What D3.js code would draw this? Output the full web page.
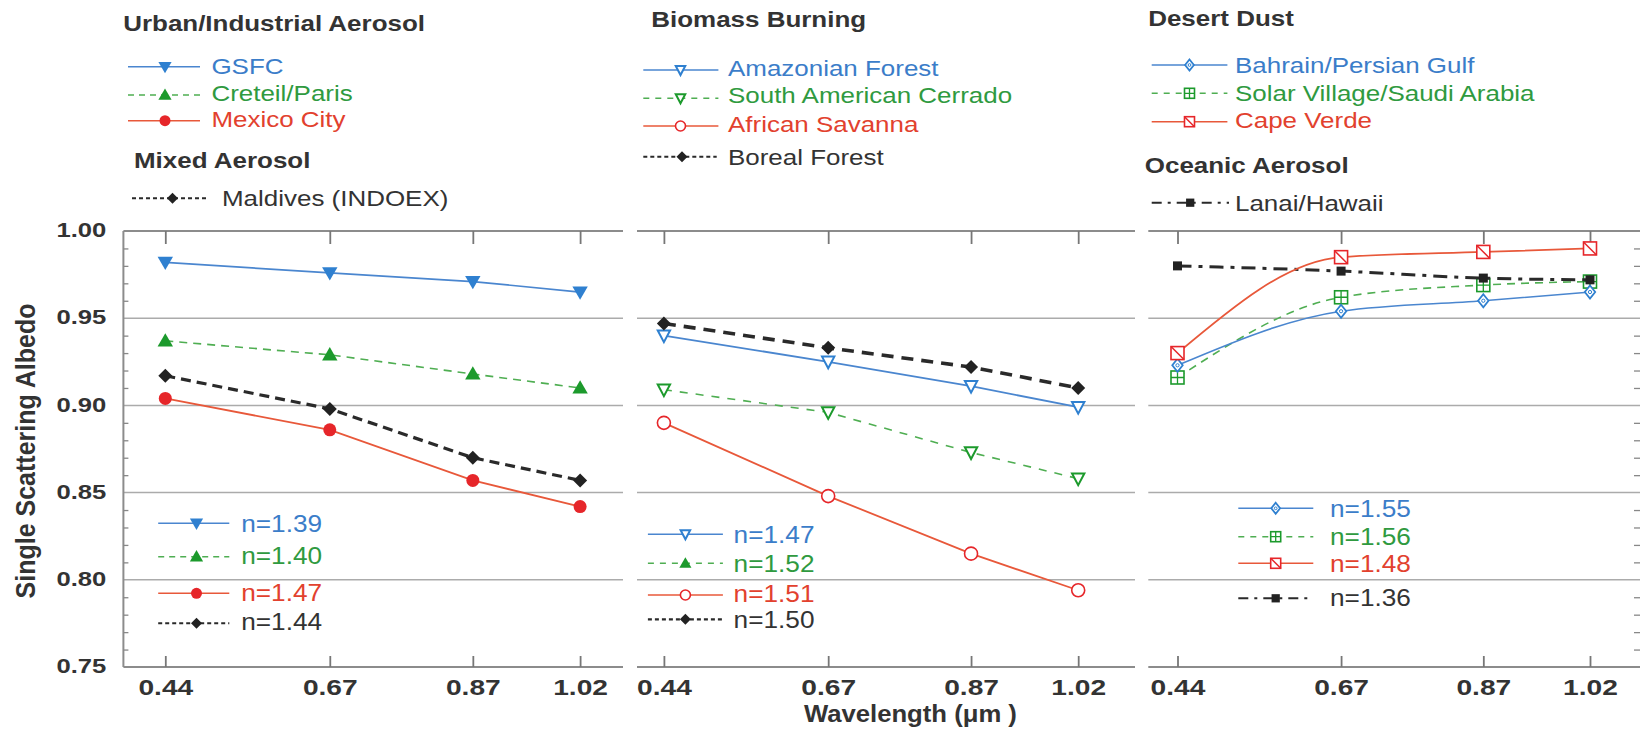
<!DOCTYPE html>
<html><head><meta charset="utf-8">
<script src="https://cdn.jsdelivr.net/npm/d3@7"></script>
<style>body{margin:0;background:#fff}svg{display:block}text{font-family:"Liberation Sans",Arial,Helvetica,sans-serif}</style>
</head><body><svg id="c" width="1640" height="730"></svg>
<script>
// ---------- data ----------
const wavelengths = [0.44, 0.67, 0.87, 1.02];
const xTickLabels = ["0.44", "0.67", "0.87", "1.02"];
const yTicks = [0.75, 0.80, 0.85, 0.90, 0.95, 1.00];
const yTickLabels = ["0.75", "0.80", "0.85", "0.90", "0.95", "1.00"];
const gridValues = [0.80, 0.85, 0.90, 0.95];
const minorTicks = [0.76,0.77,0.78,0.79,0.81,0.82,0.83,0.84,0.86,0.87,0.88,0.89,0.91,0.92,0.93,0.94,0.96,0.97,0.98,0.99];

// Urban/Industrial + Mixed
const gsfc     = [0.982, 0.976, 0.971, 0.965];
const creteil  = [0.937, 0.929, 0.918, 0.910];
const mexico   = [0.904, 0.886, 0.857, 0.842];
const maldives = [0.917, 0.898, 0.870, 0.857];
// Biomass burning
const amazon   = [0.940, 0.925, 0.911, 0.899];
const cerrado  = [0.909, 0.896, 0.873, 0.858];
const savanna  = [0.890, 0.848, 0.815, 0.794];
const boreal   = [0.947, 0.933, 0.922, 0.910];
// Desert dust + Oceanic
const bahrain  = [0.923, 0.954, 0.960, 0.965];
const solar    = [0.916, 0.962, 0.969, 0.971];
const capeVerde= [0.930, 0.985, 0.988, 0.990];
const lanai    = [0.980, 0.977, 0.973, 0.972];

const panelTitles = [["Urban/Industrial Aerosol", "Mixed Aerosol"], ["Biomass Burning"], ["Desert Dust", "Oceanic Aerosol"]];
const names1 = ["GSFC", "Creteil/Paris", "Mexico City", "Maldives (INDOEX)"];
const names2 = ["Amazonian Forest", "South American Cerrado", "African Savanna", "Boreal Forest"];
const names3 = ["Bahrain/Persian Gulf", "Solar Village/Saudi Arabia", "Cape Verde", "Lanai/Hawaii"];
const nLabels1 = ["n=1.39", "n=1.40", "n=1.47", "n=1.44"];
const nLabels2 = ["n=1.47", "n=1.52", "n=1.51", "n=1.50"];
const nLabels3 = ["n=1.55", "n=1.56", "n=1.48", "n=1.36"];
const yTitle = "Single Scattering Albedo";
const xTitle = "Wavelength (\u03bcm )";

// ---------- styles ----------
const BLUE = {line:"#4a86cf", mark:"#2f80d0", text:"#3b7dc9"};
const GREEN = {line:"#4fae52", mark:"#1c9a2c", text:"#2f9a40"};
const RED = {line:"#e8583a", mark:"#e6262a", text:"#e2412e"};
const BLACK = {line:"#2a2a2a", mark:"#222", text:"#333"};

const svg = d3.select("#c");
const FONT = '"Liberation Sans",Arial,Helvetica,sans-serif';
function txt(g, x, y, s, o) {
  return g.append("text")
    .attr("transform", `translate(${x},${y}) scale(${o.sx||1},1)` + (o.rot ? ` rotate(${o.rot})` : ""))
    .attr("text-anchor", o.anchor || "start")
    .attr("font-size", o.size).attr("font-weight", o.weight || "normal")
    .attr("fill", o.fill || "#333").text(s);
}
function marker(g, type, x, y, s, c) {
  const h = s / 2;
  switch (type) {
    case "triDownFilled":
      g.append("path").attr("d", `M${x-h*1.1},${y-h*0.8}L${x+h*1.1},${y-h*0.8}L${x},${y+h*1.1}Z`).attr("fill", c); break;
    case "triUpFilled":
      g.append("path").attr("d", `M${x-h*1.1},${y+h*0.8}L${x+h*1.1},${y+h*0.8}L${x},${y-h*1.1}Z`).attr("fill", c); break;
    case "triDownOpen":
      g.append("path").attr("d", `M${x-h*0.95},${y-h*0.8}L${x+h*0.95},${y-h*0.8}L${x},${y+h}Z`).attr("fill", "#fff").attr("stroke", c).attr("stroke-width", 2); break;
    case "circleFilled":
      g.append("circle").attr("cx", x).attr("cy", y).attr("r", h).attr("fill", c); break;
    case "circleOpen":
      g.append("circle").attr("cx", x).attr("cy", y).attr("r", h).attr("fill", "#fff").attr("stroke", c).attr("stroke-width", 1.6); break;
    case "diamondFilled":
      g.append("path").attr("d", `M${x},${y-h}L${x+h},${y}L${x},${y+h}L${x-h},${y}Z`).attr("fill", c); break;
    case "diamondOpen":
      g.append("path").attr("d", `M${x},${y-h}L${x+h*0.8},${y}L${x},${y+h}L${x-h*0.8},${y}Z`).attr("fill", "#fff").attr("stroke", c).attr("stroke-width", 1.8);
      g.append("circle").attr("cx", x).attr("cy", y).attr("r", h*0.25).attr("fill", "none").attr("stroke", c).attr("stroke-width", 1); break;
    case "squareFilled":
      g.append("rect").attr("x", x-h*0.75).attr("y", y-h*0.75).attr("width", h*1.5).attr("height", h*1.5).attr("fill", c); break;
    case "squareCross":
      g.append("rect").attr("x", x-h).attr("y", y-h).attr("width", s).attr("height", s).attr("fill", "#fff").attr("stroke", c).attr("stroke-width", 1.6);
      g.append("path").attr("d", `M${x-h},${y}L${x+h},${y}M${x},${y-h}L${x},${y+h}`).attr("stroke", c).attr("stroke-width", 1.3); break;
    case "squareDiag":
      g.append("rect").attr("x", x-h).attr("y", y-h).attr("width", s).attr("height", s).attr("fill", "#fff").attr("stroke", c).attr("stroke-width", 1.6);
      g.append("path").attr("d", `M${x-h},${y-h}L${x+h},${y+h}`).attr("stroke", c).attr("stroke-width", 1.5); break;
  }
}

const y = d3.scaleLinear().domain([0.75, 1.0]).range([667, 231]);

const panels = [
  {x0:123.4, x1:623, range:[165.3, 580.1], curve:d3.curveLinear,
   series:[
     {v:gsfc, col:BLUE, w:1.7, dash:null, m:"triDownFilled", ms:14},
     {v:creteil, col:GREEN, w:1.6, dash:"8,6", m:"triUpFilled", ms:14},
     {v:maldives, col:BLACK, w:3.2, dash:"10,6", m:"diamondFilled", ms:14},
     {v:mexico, col:RED, w:1.8, dash:null, m:"circleFilled", ms:13}]},
  {x0:637, x1:1135, range:[663.9, 1078.2], curve:d3.curveLinear,
   series:[
     {v:cerrado, col:GREEN, w:1.6, dash:"8,8", m:"triDownOpen", ms:13},
     {v:savanna, col:RED, w:1.8, dash:null, m:"circleOpen", ms:13},
     {v:amazon, col:BLUE, w:1.8, dash:null, m:"triDownOpen", ms:13},
     {v:boreal, col:BLACK, w:3.6, dash:"12,8", m:"diamondFilled", ms:14}]},
  {x0:1148.3, x1:1640, range:[1177.5, 1590], curve:d3.curveMonotoneX,
   series:[
     {v:solar, col:GREEN, w:1.6, dash:"8,6", m:"squareCross", ms:13},
     {v:bahrain, col:BLUE, w:1.6, dash:null, m:"diamondOpen", ms:13},
     {v:lanai, col:BLACK, w:3, dash:"14,7,4,7", m:"squareFilled", ms:12},
     {v:capeVerde, col:RED, w:1.8, dash:null, m:"squareDiag", ms:13}]}
];

panels.forEach((p, pi) => {
  const x = d3.scaleLinear().domain([wavelengths[0], wavelengths[3]]).range(p.range);
  const g = svg.append("g");
  gridValues.forEach(v => g.append("line").attr("x1", p.x0).attr("x2", p.x1).attr("y1", y(v)).attr("y2", y(v))
    .attr("stroke", "#ababab").attr("stroke-width", 1.5));
  [1.0, 0.75].forEach(v => g.append("line").attr("x1", p.x0).attr("x2", p.x1).attr("y1", y(v)).attr("y2", y(v))
    .attr("stroke", "#8c8c8c").attr("stroke-width", 2));
  const ax = d3.axisBottom(x).tickValues(wavelengths).tickFormat((d, i) => xTickLabels[i]).tickSize(-11).tickPadding(12.5);
  const ag = g.append("g").attr("transform", `translate(0,${y(0.75)})`).call(ax);
  ag.select(".domain").remove();
  ag.selectAll(".tick line").attr("stroke", "#777").attr("stroke-width", 1.8);
  ag.selectAll(".tick text").attr("font-size", 22).attr("font-weight", "bold").attr("fill", "#333")
    .attr("font-family", FONT).attr("transform", "scale(1.28,1)");
  const at = d3.axisTop(x).tickValues(wavelengths).tickFormat("").tickSize(-13);
  const tg = g.append("g").attr("transform", `translate(0,${y(1.0)})`).call(at);
  tg.select(".domain").remove();
  tg.selectAll(".tick line").attr("stroke", "#777").attr("stroke-width", 1.8);

  if (pi === 0) {
    g.append("line").attr("x1", p.x0).attr("x2", p.x0).attr("y1", y(1.0)).attr("y2", y(0.75)).attr("stroke", "#8c8c8c").attr("stroke-width", 2);
    const ay = d3.axisLeft(y).tickValues(yTicks).tickFormat((d, i) => yTickLabels[i]).tickSize(0).tickPadding(14);
    const yg = g.append("g").attr("transform", `translate(${p.x0},0)`).call(ay);
    yg.select(".domain").remove();
    yg.selectAll(".tick text").attr("font-size", 21).attr("font-weight", "bold").attr("fill", "#333")
      .attr("font-family", FONT).attr("dy", "0.27em").attr("transform", "scale(1.22,1)");
    const am = d3.axisLeft(y).tickValues(minorTicks).tickFormat("").tickSize(-5);
    const mg = g.append("g").attr("transform", `translate(${p.x0},0)`).call(am);
    mg.select(".domain").remove();
    mg.selectAll(".tick line").attr("stroke", "#888").attr("stroke-width", 1.3);
  }
  if (pi === 2) {
    const am = d3.axisRight(y).tickValues(minorTicks).tickFormat("").tickSize(-6);
    const mg = g.append("g").attr("transform", `translate(1640,0)`).call(am);
    mg.select(".domain").remove();
    mg.selectAll(".tick line").attr("stroke", "#888").attr("stroke-width", 1.3);
  }

  const line = d3.line().x((d, i) => x(wavelengths[i])).y(d => y(d)).curve(p.curve);
  p.series.forEach(s => {
    g.append("path").datum(s.v).attr("d", line).attr("fill", "none").attr("stroke", s.col.line)
      .attr("stroke-width", s.w).attr("stroke-dasharray", s.dash);
    s.v.forEach((v, i) => marker(g, s.m, x(wavelengths[i]), y(v), s.ms, s.col.mark));
  });
});

// ---------- legends ----------
function legendRow(g, x1, x2, xm, ly, tx, tb, label, col, w, dash, m, ms, tsize, tsx) {
  g.append("line").attr("x1", x1).attr("x2", x2).attr("y1", ly).attr("y2", ly)
    .attr("stroke", col.line).attr("stroke-width", w).attr("stroke-dasharray", dash);
  marker(g, m, xm, ly, ms, col.mark);
  txt(g, tx, tb, label, {size: tsize, fill: col.text, sx: tsx});
}
const L = svg.append("g");
const TS = 22, TSX = 1.18;
txt(L, 123.2, 30.7, panelTitles[0][0], {size: 22, weight: "bold", fill: "#333", sx: 1.18});
legendRow(L, 128, 200, 165, 66.7, 211.4, 74, names1[0], BLUE, 1.5, null, "triDownFilled", 12, TS, TSX);
legendRow(L, 128, 200, 165, 95, 211.4, 100.7, names1[1], GREEN, 1.5, "6,5", "triUpFilled", 12, TS, TSX);
legendRow(L, 128, 200, 165, 120.7, 211.4, 127.3, names1[2], RED, 1.5, null, "circleFilled", 11, TS, TSX);
txt(L, 134, 168.3, panelTitles[0][1], {size: 22, weight: "bold", fill: "#333", sx: 1.18});
legendRow(L, 132, 207, 172.5, 198.3, 222, 205.7, names1[3], BLACK, 2, "4,3", "diamondFilled", 11, TS, TSX);
txt(L, 651.3, 26.7, panelTitles[1][0], {size: 22, weight: "bold", fill: "#333", sx: 1.18});
legendRow(L, 643.3, 718.4, 680.5, 70, 728, 76, names2[0], BLUE, 1.5, null, "triDownOpen", 10, TS, TSX);
legendRow(L, 643.3, 718.4, 680.5, 98.3, 728, 103.3, names2[1], GREEN, 1.5, "6,6", "triDownOpen", 10, TS, TSX);
legendRow(L, 643.3, 718.4, 680.5, 126, 728, 131.7, names2[2], RED, 1.5, null, "circleOpen", 10, TS, TSX);
legendRow(L, 643.3, 716.7, 682, 156.7, 728, 165, names2[3], BLACK, 2, "4,3", "diamondFilled", 11, TS, TSX);
txt(L, 1148.2, 26, panelTitles[2][0], {size: 22, weight: "bold", fill: "#333", sx: 1.18});
legendRow(L, 1151.7, 1227.4, 1189.5, 65, 1235, 72.7, names3[0], BLUE, 1.5, null, "diamondOpen", 11, TS, TSX);
legendRow(L, 1151.7, 1227.4, 1189.5, 93.3, 1235, 100.7, names3[1], GREEN, 1.5, "6,6", "squareCross", 10, TS, TSX);
legendRow(L, 1151.7, 1227.4, 1189.5, 121.7, 1235, 128.3, names3[2], RED, 1.5, null, "squareDiag", 10, TS, TSX);
txt(L, 1144.8, 173.3, panelTitles[2][1], {size: 22, weight: "bold", fill: "#333", sx: 1.18});
legendRow(L, 1151.7, 1229, 1190.2, 202.7, 1235, 210.7, names3[3], BLACK, 2, "10,6,3,6", "squareFilled", 11, TS, TSX);

const NS = 23, NSX = 1.14;
legendRow(L, 158.2, 229.3, 196.5, 523.3, 241.2, 531.7, nLabels1[0], BLUE, 1.5, null, "triDownFilled", 12, NS, NSX);
legendRow(L, 158.2, 229.3, 196.5, 556.7, 241.2, 564, nLabels1[1], GREEN, 1.5, "6,5", "triUpFilled", 12, NS, NSX);
legendRow(L, 158.2, 229.3, 196.5, 593.3, 241.2, 600.7, nLabels1[2], RED, 1.5, null, "circleFilled", 11, NS, NSX);
legendRow(L, 158.2, 229.3, 196.5, 623.3, 241.2, 630, nLabels1[3], BLACK, 2, "4,3", "diamondFilled", 11, NS, NSX);

legendRow(L, 647.9, 722.9, 685.4, 534.3, 733.6, 543.3, nLabels2[0], BLUE, 1.5, null, "triDownOpen", 10, NS, NSX);
legendRow(L, 647.9, 722.9, 685.4, 563.3, 733.6, 571.7, nLabels2[1], GREEN, 1.5, "6,6", "triUpFilled", 11, NS, NSX);
legendRow(L, 647.9, 722.9, 685.4, 595, 733.6, 601.7, nLabels2[2], RED, 1.5, null, "circleOpen", 10, NS, NSX);
legendRow(L, 647.9, 722.9, 685.4, 619.3, 733.6, 627.7, nLabels2[3], BLACK, 2.2, "4,3", "diamondFilled", 11, NS, NSX);

legendRow(L, 1238.3, 1313.3, 1275.7, 508.3, 1330, 516.7, nLabels3[0], BLUE, 1.5, null, "diamondOpen", 11, NS, NSX);
legendRow(L, 1238.3, 1313.3, 1275.7, 536.7, 1330, 545, nLabels3[1], GREEN, 1.5, "6,6", "squareCross", 10, NS, NSX);
legendRow(L, 1238.3, 1313.3, 1275.7, 563.3, 1330, 571.7, nLabels3[2], RED, 1.5, null, "squareDiag", 10, NS, NSX);
legendRow(L, 1238.3, 1313.3, 1275.7, 598.3, 1330, 606, nLabels3[3], BLACK, 2, "10,6,3,6", "squareFilled", 11, NS, NSX);

txt(svg, 910.4, 721.7, xTitle, {size: 24, weight: "bold", fill: "#333", anchor: "middle", sx: 1.07});
txt(svg, 35, 451, yTitle, {size: 25, weight: "bold", fill: "#333", anchor: "middle", sx: 1.12, rot: -90});
</script></body></html>
